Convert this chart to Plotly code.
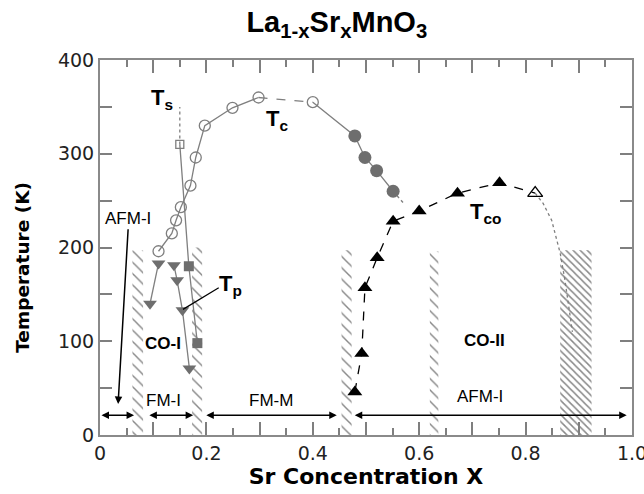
import plotly.graph_objects as go

# ---------------- data ----------------
# Tc (open circles, gray)
tc_open_x = [0.11, 0.135, 0.143, 0.152, 0.17, 0.18, 0.197, 0.249, 0.298]
tc_open_y = [196, 215, 229, 243, 266, 296, 330, 349, 360]
tc_open2_x = [0.40]
tc_open2_y = [355]
# Tc (filled gray circles)
tc_fill_x = [0.479, 0.498, 0.52, 0.551]
tc_fill_y = [319, 296, 282, 260]
tc_extrap_x = [0.551, 0.571]
tc_extrap_y = [260, 247]
# Ts (open square + filled gray squares)
ts_open_x = [0.15]
ts_open_y = [310]
ts_up_x = [0.15, 0.15]
ts_up_y = [310, 350]
ts_fill_x = [0.167, 0.183]
ts_fill_y = [180, 98]
# Tp (gray down triangles)
tpA_x = [0.094, 0.110]
tpA_y = [140, 183]
tpB_x = [0.139, 0.145, 0.155, 0.168]
tpB_y = [181, 165, 133, 71]
# Tco (black triangles, open triangle)
tco_x = [0.479, 0.492, 0.498, 0.521, 0.551, 0.600, 0.672, 0.751]
tco_y = [46, 87, 157, 189, 228, 239, 258, 269]
tco_open_x = [0.818]
tco_open_y = [258]
tco_extrap_x = [0.818, 0.833, 0.849, 0.858, 0.865, 0.874, 0.882, 0.888]
tco_extrap_y = [258, 247, 229, 208, 194, 165, 135, 110]
# hatched boundary bands: (x0, x1, top)
bands_x0 = [0.061, 0.173, 0.454, 0.620, 0.865]
bands_x1 = [0.081, 0.192, 0.473, 0.636, 0.924]
bands_top = [197, 200, 197, 196, 197]
bands_dense = [False, False, False, False, True]
# phase arrows at the bottom
arrow_T = 21
arrow_segments = [(0.0, 0.064), (0.09, 0.175), (0.197, 0.445), (0.476, 0.99)]
# phase labels
phase_names = ["AFM-I", "FM-I", "FM-M", "AFM-I", "CO-I", "CO-II"]
phase_x = [0.053, 0.120, 0.322, 0.714, 0.119, 0.722]
phase_y = [231, 37, 37, 41, 98, 101]
phase_bold = [False, False, False, False, True, True]

GRAY = "#7f7f7f"
fig = go.Figure()

# hatched bands
for x0, x1, top, dense in zip(bands_x0, bands_x1, bands_top, bands_dense):
    fig.add_trace(go.Scatter(
        x=[x0, x1, x1, x0, x0], y=[0, 0, top, top, 0], mode="lines",
        fill="toself", line=dict(width=0, color="rgba(0,0,0,0)"),
        fillcolor="rgba(0,0,0,0)",
        fillpattern=dict(shape="\\", fgcolor="#111", bgcolor="rgba(255,255,255,0)",
                         size=5 if dense else 8, solidity=0.3 if dense else 0.18),
        hoverinfo="skip", showlegend=False))

# Tc lines
fig.add_trace(go.Scatter(x=tc_open_x, y=tc_open_y, mode="lines",
                         line=dict(color=GRAY, width=1.3), showlegend=False))
fig.add_trace(go.Scatter(x=[tc_open_x[-1]] + tc_open2_x, y=[tc_open_y[-1]] + tc_open2_y,
                         mode="lines", line=dict(color=GRAY, width=1.3, dash="dash"),
                         showlegend=False))
fig.add_trace(go.Scatter(x=tc_open2_x + tc_fill_x, y=tc_open2_y + tc_fill_y, mode="lines",
                         line=dict(color=GRAY, width=1.3), showlegend=False))
fig.add_trace(go.Scatter(x=tc_extrap_x, y=tc_extrap_y, mode="lines",
                         line=dict(color=GRAY, width=1.3, dash="dot"), showlegend=False))
# Ts lines
fig.add_trace(go.Scatter(x=ts_up_x, y=ts_up_y, mode="lines",
                         line=dict(color=GRAY, width=1.3, dash="dot"), showlegend=False))
fig.add_trace(go.Scatter(x=ts_open_x + ts_fill_x, y=ts_open_y + ts_fill_y, mode="lines",
                         line=dict(color=GRAY, width=1.3), showlegend=False))
# Tp lines
fig.add_trace(go.Scatter(x=tpA_x, y=tpA_y, mode="lines",
                         line=dict(color=GRAY, width=1.3), showlegend=False))
fig.add_trace(go.Scatter(x=tpB_x, y=tpB_y, mode="lines",
                         line=dict(color=GRAY, width=1.3), showlegend=False))
# Tco lines
fig.add_trace(go.Scatter(x=tco_x + tco_open_x, y=tco_y + tco_open_y, mode="lines",
                         line=dict(color="black", width=1.3, dash="dash"), showlegend=False))
fig.add_trace(go.Scatter(x=tco_extrap_x, y=tco_extrap_y, mode="lines",
                         line=dict(color=GRAY, width=1.3, dash="dot"), showlegend=False))

# markers
fig.add_trace(go.Scatter(x=tc_open_x + tc_open2_x, y=tc_open_y + tc_open2_y, mode="markers",
                         marker=dict(symbol="circle-open", size=11, color=GRAY,
                                     line=dict(width=1.3, color=GRAY)), showlegend=False))
fig.add_trace(go.Scatter(x=tc_fill_x, y=tc_fill_y, mode="markers",
                         marker=dict(symbol="circle", size=13, color="#6e6e6e"), showlegend=False))
fig.add_trace(go.Scatter(x=ts_open_x, y=ts_open_y, mode="markers",
                         marker=dict(symbol="square-open", size=8, color=GRAY,
                                     line=dict(width=1.3, color=GRAY)), showlegend=False))
fig.add_trace(go.Scatter(x=ts_fill_x, y=ts_fill_y, mode="markers",
                         marker=dict(symbol="square", size=10, color="#6e6e6e"), showlegend=False))
fig.add_trace(go.Scatter(x=tpA_x + tpB_x, y=tpA_y + tpB_y, mode="markers",
                         marker=dict(symbol="triangle-down", size=12, color="#6e6e6e"),
                         showlegend=False))
fig.add_trace(go.Scatter(x=tco_x, y=tco_y, mode="markers",
                         marker=dict(symbol="triangle-up", size=13, color="black"), showlegend=False))
fig.add_trace(go.Scatter(x=tco_open_x, y=tco_open_y, mode="markers",
                         marker=dict(symbol="triangle-up-open", size=13, color="black",
                                     line=dict(width=1.3, color="black")), showlegend=False))

annotations = []
# bottom double arrows
for a, b in arrow_segments:
    annotations.append(dict(x=b, y=arrow_T, ax=a, ay=arrow_T, xref="x", yref="y",
                            axref="x", ayref="y", text="", showarrow=True,
                            arrowside="end+start", arrowhead=2, startarrowhead=2,
                            arrowsize=1, startarrowsize=1, arrowwidth=1.5, arrowcolor="black"))
# AFM-I pointer arrow
annotations.append(dict(x=0.034, y=33, ax=0.053, ay=221, xref="x", yref="y", axref="x",
                        ayref="y", text="", showarrow=True, arrowhead=2, arrowsize=1,
                        arrowwidth=1.5, arrowcolor="black"))
# Tp pointer line
annotations.append(dict(x=0.156, y=134, ax=0.226, ay=158, xref="x", yref="y", axref="x",
                        ayref="y", text="", showarrow=True, arrowhead=0,
                        arrowwidth=1.2, arrowcolor="black"))

for name, px, py, bold in zip(phase_names, phase_x, phase_y, phase_bold):
    annotations.append(dict(x=px, y=py, xref="x", yref="y", showarrow=False,
                            text=f"<b>{name}</b>" if bold else name,
                            font=dict(family="Liberation Sans, Arial", size=17, color="black")))

# temperature labels
temp_labels = ["T<sub>s</sub>", "T<sub>c</sub>", "T<sub>p</sub>", "T<sub>co</sub>"]
temp_x = [0.117, 0.332, 0.245, 0.724]
temp_y = [358, 336, 160, 237]
for t, px, py in zip(temp_labels, temp_x, temp_y):
    annotations.append(dict(x=px, y=py, xref="x", yref="y", showarrow=False, text=f"<b>{t}</b>",
                            font=dict(family="Liberation Sans, Arial", size=22, color="black")))

# y-axis title (placed as an annotation to match its offset position)
annotations.append(dict(x=-0.147, y=0.448, xref="paper", yref="paper", showarrow=False,
                        xanchor="center", yanchor="middle",
                        textangle=-90, text="<b>Temperature (K)</b>",
                        font=dict(family="DejaVu Sans", size=18.5, color="black")))

xt_vals = [i / 10 for i in range(11)]
xt_text = [("0" if i == 0 else f"{i/10:.1f}") if i % 2 == 0 else "" for i in range(11)]
yt_vals = list(range(0, 401, 50))
yt_text = [str(v) if v % 100 == 0 else "" for v in yt_vals]

fig.update_layout(
    width=644, height=494,
    margin=dict(l=100, r=12, t=60, b=59, autoexpand=False),
    paper_bgcolor="white", plot_bgcolor="white",
    title=dict(text="<b>La<sub>1-x</sub>Sr<sub>x</sub>MnO<sub>3</sub></b>",
               x=0.523, xanchor="center", xref="container", y=0.955, yref="container",
               yanchor="middle",
               font=dict(family="Liberation Sans, Arial", size=29, color="black")),
    annotations=annotations,
    showlegend=False,
)
fig.update_xaxes(range=[0, 1], tickvals=xt_vals, ticktext=xt_text, ticks="inside",
                 ticklen=13, tickwidth=1.5, tickcolor=GRAY, ticklabeloverflow="allow",
                 automargin=False,
                 minor=dict(dtick=0.05, ticks="inside", ticklen=7, tickwidth=1.5, tickcolor=GRAY),
                 showline=True, linecolor="#8a8a8a", linewidth=2, mirror="ticks",
                 showgrid=False, zeroline=False,
                 tickfont=dict(family="DejaVu Sans", size=19, color="#222"),
                 title=dict(text="<b>Sr Concentration X</b>", standoff=4,
                            font=dict(family="DejaVu Sans", size=22, color="black")))
fig.update_yaxes(range=[0, 400], tickvals=yt_vals, ticktext=yt_text, ticks="inside",
                 ticklen=12, tickwidth=1.5, tickcolor=GRAY, automargin=False,
                 showline=True, linecolor="#8a8a8a", linewidth=2, mirror="ticks",
                 showgrid=False, zeroline=False,
                 tickfont=dict(family="DejaVu Sans", size=19, color="#222"))

fig.write_html("out.html")
